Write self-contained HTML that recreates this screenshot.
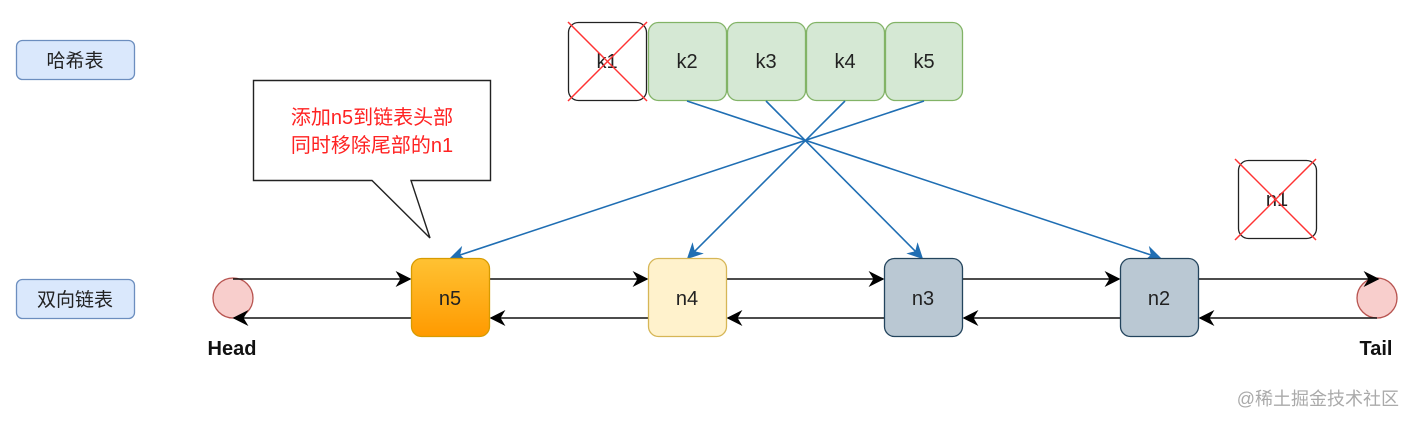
<!DOCTYPE html>
<html><head><meta charset="utf-8"><style>
html,body{margin:0;padding:0;background:#fff;}
svg{display:block;}
text{font-family:"Liberation Sans","Noto Sans CJK SC",sans-serif;}
</style></head><body>
<svg width="1414" height="422" viewBox="0 0 1414 422" xmlns="http://www.w3.org/2000/svg">
<defs>
<marker id="ab" viewBox="0 0 10 10" refX="9" refY="5" markerWidth="16" markerHeight="16" orient="auto" markerUnits="userSpaceOnUse"><path d="M0,0 L10,5 L0,10 L3,5 z" fill="#000"/></marker>
<marker id="abl" viewBox="0 0 10 10" refX="9" refY="5" markerWidth="16" markerHeight="16" orient="auto" markerUnits="userSpaceOnUse"><path d="M0,0 L10,5 L0,10 L3,5 z" fill="#1f6eb3"/></marker>
<linearGradient id="og" x1="0" y1="0" x2="0" y2="1"><stop offset="0" stop-color="#ffc233"/><stop offset="1" stop-color="#ff9a00"/></linearGradient>
</defs>
<rect x="16.5" y="40.5" width="118" height="39" rx="6" fill="#dae8fc" stroke="#6c8ebf" stroke-width="1.3"/>
<text x="75" y="67" font-size="19" text-anchor="middle" fill="#222">哈希表</text>
<rect x="16.5" y="279.5" width="118" height="39" rx="6" fill="#dae8fc" stroke="#6c8ebf" stroke-width="1.3"/>
<text x="75" y="306" font-size="19" text-anchor="middle" fill="#222">双向链表</text>
<rect x="568.5" y="22.5" width="78" height="78" rx="10" fill="#fff" stroke="#222" stroke-width="1.3"/>
<text x="607" y="68" font-size="20" text-anchor="middle" fill="#222">k1</text>
<line x1="568" y1="22" x2="647" y2="101" stroke="#f33" stroke-width="1.5"/>
<line x1="647" y1="22" x2="568" y2="101" stroke="#f33" stroke-width="1.5"/>
<g fill="#d5e8d4" stroke="#82b366" stroke-width="1.3">
<rect x="648.5" y="22.5" width="78" height="78" rx="10"/>
<rect x="727.5" y="22.5" width="78" height="78" rx="10"/>
<rect x="806.5" y="22.5" width="78" height="78" rx="10"/>
<rect x="885.5" y="22.5" width="77" height="78" rx="10"/>
</g>
<g font-size="20" text-anchor="middle" fill="#222">
<text x="687" y="68">k2</text><text x="766" y="68">k3</text><text x="845" y="68">k4</text><text x="924" y="68">k5</text>
</g>
<path d="M253.5,80.5 H490.5 V180.5 H411 L430,238 L372,180.5 H253.5 Z" fill="#fff" stroke="#222" stroke-width="1.4"/>
<text x="372" y="124" font-size="20" text-anchor="middle" fill="#f22">添加n5到链表头部</text>
<text x="372" y="152" font-size="20" text-anchor="middle" fill="#f22">同时移除尾部的n1</text>
<rect x="1238.5" y="160.5" width="78" height="78" rx="10" fill="#fff" stroke="#222" stroke-width="1.3"/>
<text x="1277" y="206" font-size="20" text-anchor="middle" fill="#222">n1</text>
<line x1="1235" y1="159" x2="1316" y2="240" stroke="#f33" stroke-width="1.5"/>
<line x1="1316" y1="159" x2="1235" y2="240" stroke="#f33" stroke-width="1.5"/>
<g stroke="#1f6eb3" stroke-width="1.6" fill="none" marker-end="url(#abl)">
<line x1="687" y1="101" x2="1160" y2="258"/>
<line x1="766" y1="101" x2="922" y2="258"/>
<line x1="845" y1="101" x2="688" y2="258"/>
<line x1="924" y1="101" x2="451" y2="258"/>
</g>
<circle cx="233" cy="298" r="20" fill="#f8cecc" stroke="#b85450" stroke-width="1.3"/>
<circle cx="1377" cy="298" r="20" fill="#f8cecc" stroke="#b85450" stroke-width="1.3"/>
<g stroke="#111" stroke-width="1.6" fill="none" marker-end="url(#ab)">
<line x1="233" y1="279" x2="410" y2="279"/>
<line x1="490" y1="279" x2="647" y2="279"/>
<line x1="727" y1="279" x2="883" y2="279"/>
<line x1="963" y1="279" x2="1119" y2="279"/>
<line x1="1199" y1="279" x2="1378" y2="279"/>
<line x1="411" y1="318" x2="234" y2="318"/>
<line x1="648" y1="318" x2="491" y2="318"/>
<line x1="884" y1="318" x2="728" y2="318"/>
<line x1="1120" y1="318" x2="964" y2="318"/>
<line x1="1377" y1="318" x2="1200" y2="318"/>
</g>
<rect x="411.5" y="258.5" width="78" height="78" rx="10" fill="url(#og)" stroke="#d79b00" stroke-width="1.3"/>
<rect x="648.5" y="258.5" width="78" height="78" rx="10" fill="#fff2cc" stroke="#d6b656" stroke-width="1.3"/>
<rect x="884.5" y="258.5" width="78" height="78" rx="10" fill="#bac8d3" stroke="#23445d" stroke-width="1.3"/>
<rect x="1120.5" y="258.5" width="78" height="78" rx="10" fill="#bac8d3" stroke="#23445d" stroke-width="1.3"/>
<g font-size="20" text-anchor="middle" fill="#222">
<text x="450" y="305">n5</text><text x="687" y="305">n4</text><text x="923" y="305">n3</text><text x="1159" y="305">n2</text>
</g>
<text x="232" y="355" font-size="20" font-weight="bold" text-anchor="middle" fill="#111">Head</text>
<text x="1376" y="355" font-size="20" font-weight="bold" text-anchor="middle" fill="#111">Tail</text>
<text x="1399" y="405" font-size="18" text-anchor="end" fill="#aaa">@稀土掘金技术社区</text>
</svg>
</body></html>
